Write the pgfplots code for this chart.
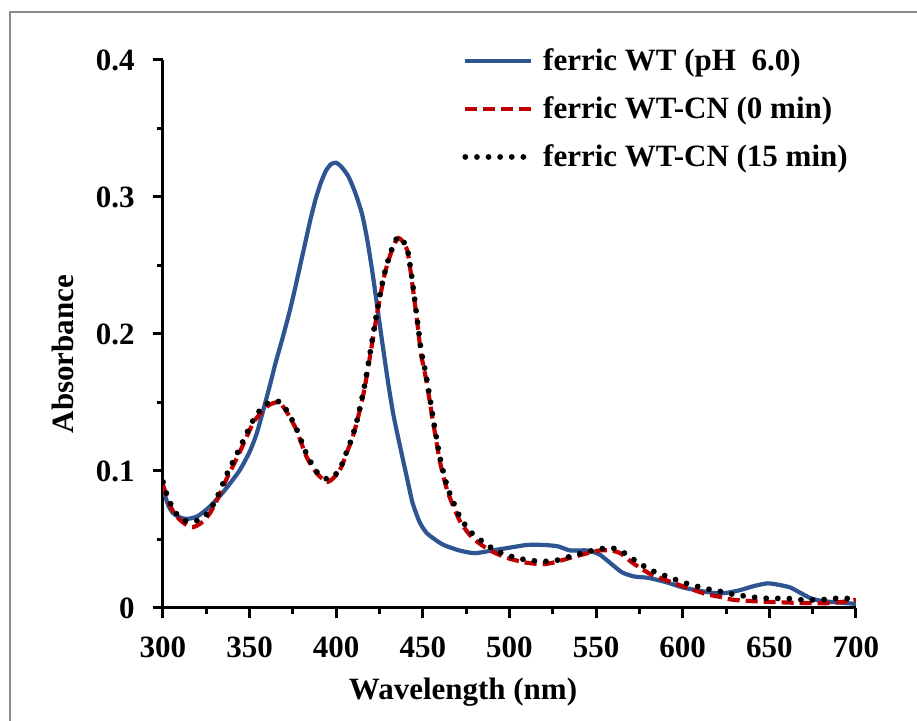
\documentclass[border=0pt]{standalone}
\usepackage{fontspec}
\setmainfont{Liberation Serif}
\usepackage{pgfplots}
\pgfplotsset{compat=1.18}
\definecolor{wtblue}{RGB}{46,84,145}
\definecolor{cnred}{RGB}{192,0,0}
\definecolor{framegray}{RGB}{140,140,140}
\newcommand{\chartfont}{\fontsize{15.5}{18}\selectfont\bfseries}
\begin{document}
\begin{tikzpicture}
\useasboundingbox (-81.5pt,-56.5pt) rectangle (377pt,304pt);
\draw[framegray, line width=0.9pt] (-76.5pt,-80pt) -- (-76.5pt,298pt) -- (420pt,298pt);
\begin{axis}[
  at={(0,0)}, anchor=south west,
  scale only axis, width=346.5pt, height=274pt,
  xmin=300, xmax=700, ymin=0, ymax=0.4,
  axis x line*=bottom, axis y line*=left,
  axis line style={line width=1.5pt, black},
  every tick/.style={black, line width=1.5pt},
  tick align=outside,
  major tick length=5pt, minor tick length=3pt,
  xtick={300,350,...,700},
  xticklabels={300,350,400,450,500,550,600,650,700},
  ytick={0,0.1,0.2,0.3,0.4},
  yticklabels={0,0.1,0.2,0.3,0.4},
  minor x tick num=1, minor y tick num=1,
  font=\chartfont,
  tick label style={font=\chartfont},
  xticklabel style={anchor=north, inner sep=0pt, yshift=-9pt},
  yticklabel style={anchor=east, inner sep=0pt, xshift=-9pt},
  xlabel={Wavelength (nm)},
  ylabel={Absorbance},
  label style={font=\chartfont},
  x label style={at={(axis description cs:0.433,-0.153)}, anchor=center},
  y label style={at={(axis description cs:-0.1443,0.4635)}, anchor=center},
  legend style={at={(axis description cs:0.4315,1.021)}, anchor=north west,
    draw=none, fill=none, font=\chartfont, inner sep=0pt, row sep=11.5pt,
    nodes={inner sep=0pt}},
  legend cell align=left,
  legend image code/.code={\draw[#1] (0pt,0pt) -- (33pt,0pt);},
  legend style={/tikz/every odd column/.append style={column sep=4.5pt}},
]
\addplot[wtblue, line width=2.1pt, smooth, tension=0.4] coordinates {
(300,0.087)(303,0.075)(306,0.069)(310,0.066)(314,0.065)(320,0.067)(327,0.074)
(335,0.085)(344,0.100)(350,0.114)(354,0.127)(358,0.145)(362,0.164)(365,0.179)
(369,0.197)(373,0.216)(376,0.232)(379,0.249)(382,0.266)(385,0.283)(388,0.298)
(391,0.310)(394,0.319)(397,0.324)(400,0.325)(403,0.322)(407,0.315)(411,0.303)
(415,0.287)(418,0.268)(421,0.244)(424,0.217)(427,0.190)(430,0.164)(433,0.141)
(437,0.117)(441,0.094)(444,0.077)(448,0.063)(452,0.055)(457,0.050)(462,0.046)
(471,0.042)(480,0.040)(490,0.042)(500,0.044)(510,0.046)(520,0.046)(528,0.045)
(535,0.042)(545,0.042)(552,0.039)(558,0.033)(565,0.026)(572,0.023)(580,0.022)
(590,0.019)(600,0.015)(610,0.0125)(618,0.011)(625,0.011)(633,0.013)(641,0.016)
(649,0.018)(655,0.017)(662,0.015)(668,0.011)(674,0.007)(681,0.005)(690,0.004)
(700,0.003)};
\addlegendentry{ferric WT (pH\ \ 6.0)}
\addplot[cnred, line width=2.1pt, dash pattern=on 6pt off 3pt, smooth, tension=0.4] coordinates {
(300,0.090)(303,0.078)(307,0.068)(312,0.062)(317,0.059)(322,0.062)(327,0.069)
(332,0.081)(337,0.095)(344,0.113)(352,0.135)(357,0.143)(361,0.148)(365,0.150)
(368,0.149)(372,0.142)(377,0.130)(383,0.110)(389,0.098)(395,0.092)(400,0.097)
(403,0.103)(406,0.113)(409,0.123)(412,0.136)(416,0.158)(419,0.180)(422,0.203)
(425,0.225)(428,0.244)(431,0.257)(434,0.267)(436,0.270)(438,0.268)(441,0.261)
(443,0.245)(445,0.226)(447,0.206)(449,0.185)(452,0.166)(456,0.135)(460,0.106)
(464,0.086)(468,0.073)(472,0.062)(478,0.052)(485,0.045)(492,0.040)(500,0.036)
(510,0.033)(520,0.032)(528,0.034)(536,0.037)(545,0.040)(552,0.042)(558,0.042)
(564,0.040)(571,0.033)(581,0.025)(591,0.020)(602,0.015)(614,0.010)(622,0.008)
(629,0.006)(640,0.005)(649,0.0045)(660,0.004)(668,0.0037)(680,0.0035)(687,0.0037)
(695,0.005)(700,0.006)};
\addlegendentry{ferric WT-CN (0 min)}
\addplot[black, line width=2.9pt, line cap=round, dash pattern=on 0pt off 5.8pt, smooth, tension=0.4] coordinates {
(300,0.092)(303,0.080)(307,0.070)(312,0.064)(317,0.063)(322,0.065)(327,0.071)
(332,0.083)(337,0.098)(344,0.116)(352,0.137)(357,0.146)(361,0.150)(365,0.151)
(368,0.150)(372,0.143)(377,0.131)(383,0.112)(389,0.099)(395,0.094)(400,0.098)
(403,0.104)(406,0.114)(409,0.124)(412,0.137)(416,0.160)(419,0.182)(422,0.205)
(425,0.227)(428,0.245)(431,0.258)(434,0.268)(436,0.271)(438,0.269)(441,0.262)
(443,0.247)(445,0.228)(447,0.208)(449,0.188)(452,0.169)(456,0.138)(460,0.109)
(464,0.089)(468,0.076)(472,0.065)(478,0.055)(485,0.048)(492,0.042)(500,0.038)
(510,0.035)(520,0.034)(528,0.035)(536,0.038)(545,0.041)(552,0.043)(558,0.044)
(564,0.042)(571,0.036)(581,0.028)(591,0.023)(602,0.018)(614,0.014)(622,0.012)
(629,0.010)(640,0.008)(649,0.007)(660,0.007)(668,0.006)(680,0.006)(687,0.007)
(695,0.007)(700,0.009)};
\addlegendentry{ferric WT-CN (15 min)}
\end{axis}
\end{tikzpicture}
\end{document}
